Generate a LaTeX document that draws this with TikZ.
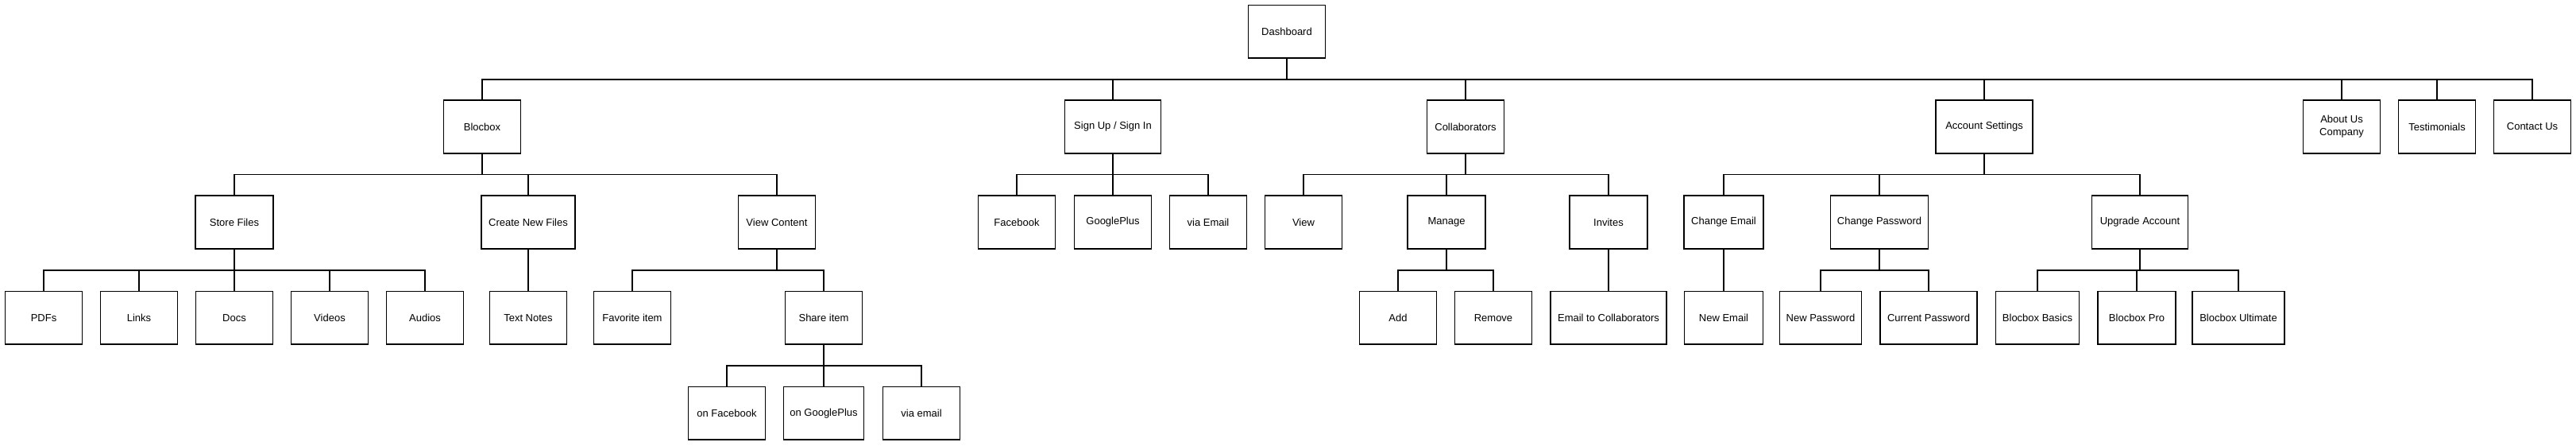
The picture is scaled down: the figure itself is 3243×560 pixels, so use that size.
\documentclass[tikz,border=0pt]{standalone}
\usepackage{fontspec}
\setmainfont{Liberation Sans}
\usetikzlibrary{calc}
\begin{document}
\begin{tikzpicture}[x=1pt,y=-1pt,
  bx/.style={draw, fill=white, line width=1.8pt, minimum width=97pt, minimum height=67pt,
    inner sep=2pt, align=center, font=\fontsize{13}{16}\selectfont,
    path picture={\draw[line width=2.2pt] (path picture bounding box.south west) -- (path picture bounding box.south east);}},
  tree/.style={line width=1.5pt, to path={(\tikztostart) -- ($(\tikztostart)!0.5!(\tikztostart |- \tikztotarget)$) -| (\tikztotarget)}}
]
\useasboundingbox (0,0) rectangle (3243,560);
% row 0
\node[bx] (dash) at (1620,40) {Dashboard};
% row 1
\node[bx] (blocbox) at (607,159.5) {Blocbox};
\node[bx, minimum width=121pt] (signup) at (1401,159.5) {Sign Up / Sign In};
\node[bx] (collab) at (1845,159.5) {Collaborators};
\node[bx, minimum width=122pt] (acct) at (2498,159.5) {Account Settings};
\node[bx] (about) at (2948,159.5) {About Us\\Company};
\node[bx] (testi) at (3068,159.5) {Testimonials};
\node[bx] (contact) at (3188,159.5) {Contact Us};
% row 2
\node[bx, minimum width=98pt] (store) at (295,279.5) {Store Files};
\node[bx, minimum width=118pt] (create) at (665,279.5) {Create New Files};
\node[bx] (view) at (978,279.5) {View Content};
\node[bx] (fb) at (1280,279.5) {Facebook};
\node[bx] (gp) at (1401,279.5) {GooglePlus};
\node[bx] (viaem) at (1521,279.5) {via Email};
\node[bx] (viewc) at (1641,279.5) {View};
\node[bx, minimum width=98pt] (manage) at (1821,279.5) {Manage};
\node[bx, minimum width=98pt] (invites) at (2025,279.5) {Invites};
\node[bx, minimum width=100pt] (chemail) at (2170,279.5) {Change Email};
\node[bx, minimum width=123pt] (chpass) at (2366,279.5) {Change Password};
\node[bx, minimum width=121pt] (upgrade) at (2694,279.5) {Upgrade Account};
% row 3
\node[bx] (pdfs) at (55,400) {PDFs};
\node[bx] (links) at (175,400) {Links};
\node[bx] (docs) at (295,400) {Docs};
\node[bx] (videos) at (415,400) {Videos};
\node[bx] (audios) at (535,400) {Audios};
\node[bx] (textn) at (665,400) {Text Notes};
\node[bx] (fav) at (796,400) {Favorite item};
\node[bx] (share) at (1037,400) {Share item};
\node[bx] (add) at (1760,400) {Add};
\node[bx] (remove) at (1880,400) {Remove};
\node[bx, minimum width=146pt] (emailcol) at (2025,400) {Email to Collaborators};
\node[bx, minimum width=99pt] (newemail) at (2170,400) {New Email};
\node[bx, minimum width=103pt] (newpass) at (2292,400) {New Password};
\node[bx, minimum width=122pt] (curpass) at (2428,400) {Current Password};
\node[bx, minimum width=105pt] (basics) at (2565,400) {Blocbox Basics};
\node[bx, minimum width=98pt] (pro) at (2690,400) {Blocbox Pro};
\node[bx, minimum width=116pt] (ultimate) at (2818,400) {Blocbox Ultimate};
% row 4
\node[bx] (onfb) at (915,520) {on Facebook};
\node[bx, minimum width=101pt] (ongp) at (1037,520) {on GooglePlus};
\node[bx] (viaem2) at (1160,520) {via email};
% connectors
\foreach \c in {blocbox,signup,collab,acct,about,testi,contact} \draw[tree] (dash.south) to (\c.north);
\foreach \c in {store,create,view} \draw[tree] (blocbox.south) to (\c.north);
\foreach \c in {fb,gp,viaem} \draw[tree] (signup.south) to (\c.north);
\foreach \c in {viewc,manage,invites} \draw[tree] (collab.south) to (\c.north);
\foreach \c in {chemail,chpass,upgrade} \draw[tree] (acct.south) to (\c.north);
\foreach \c in {pdfs,links,docs,videos,audios} \draw[tree] (store.south) to (\c.north);
\draw[tree] (create.south) to (textn.north);
\foreach \c in {fav,share} \draw[tree] (view.south) to (\c.north);
\foreach \c in {add,remove} \draw[tree] (manage.south) to (\c.north);
\draw[tree] (invites.south) to (emailcol.north);
\draw[tree] (chemail.south) to (newemail.north);
\foreach \c in {newpass,curpass} \draw[tree] (chpass.south) to (\c.north);
\foreach \c in {basics,pro,ultimate} \draw[tree] (upgrade.south) to (\c.north);
\foreach \c in {onfb,ongp,viaem2} \draw[tree] (share.south) to (\c.north);
\end{tikzpicture}
\end{document}
